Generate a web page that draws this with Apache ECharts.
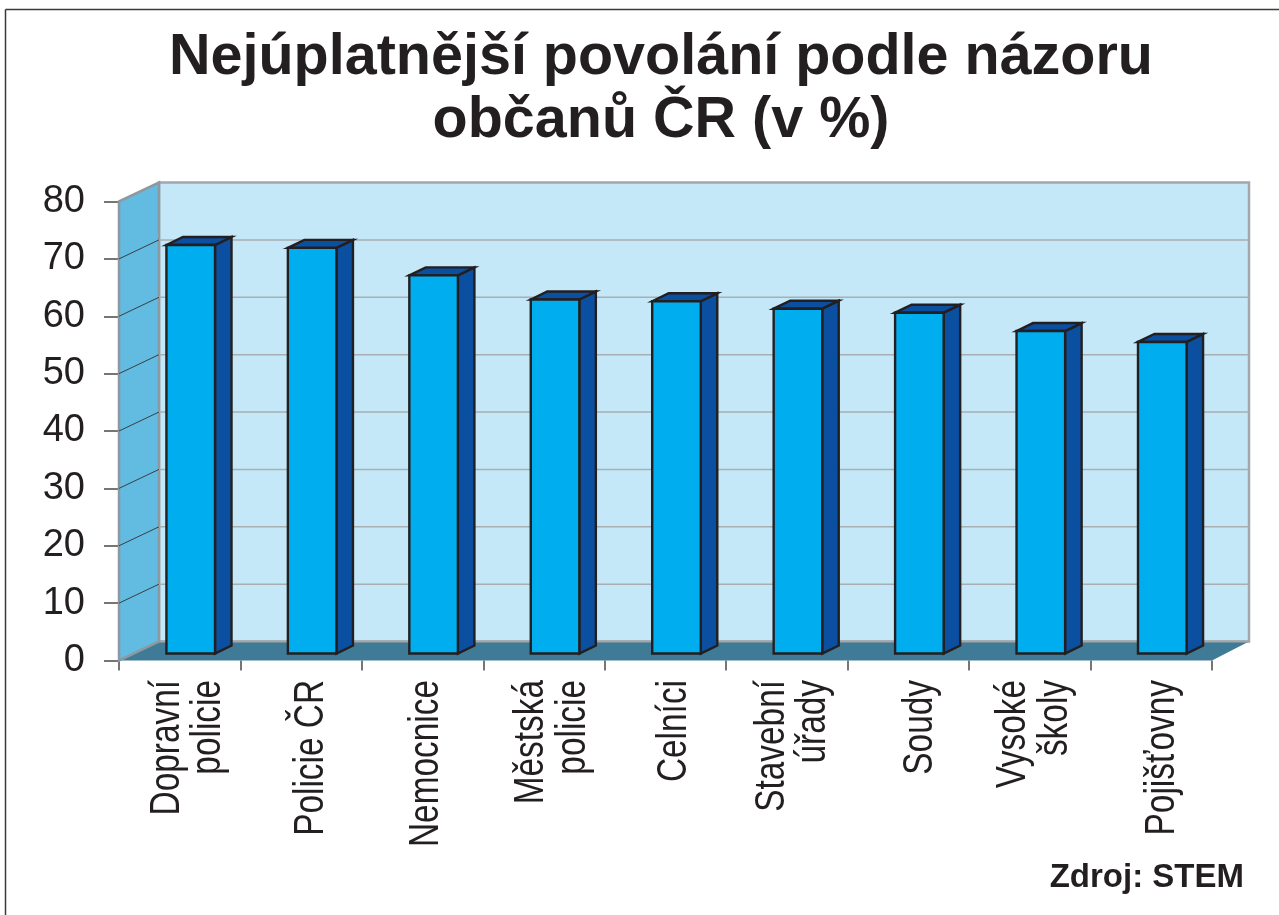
<!DOCTYPE html>
<html><head><meta charset="utf-8">
<style>html,body{margin:0;padding:0;background:#fff}#c{width:1279px;height:915px}</style>
<script src="https://cdn.jsdelivr.net/npm/echarts@6/dist/echarts.min.js"></script>
</head><body><div id="c"></div>
<script>
const categories = ['Dopravní\npolicie','Policie ČR','Nemocnice','Městská\npolicie','Celníci','Stavební\núřady','Soudy','Vysoké\nškoly','Pojišťovny'];
const values = [71.2, 70.7, 65.9, 61.7, 61.4, 60.1, 59.4, 56.2, 54.3];
const yTicks = [0,10,20,30,40,50,60,70,80];
const titleText = 'Nejúplatnější povolání podle názoru\nobčanů ČR (v %)';
const sourceText = 'Zdroj: STEM';

const labelNudge = [8,10,4,8.5,9,6,12,4.5,11];   // sideways offset of each category label (px)
const DX = 40, DY = -19;            // wall depth
const BX = 11, BY = -7;             // bar front-face offset from the axis plane
const SX = 16.5, SY = -8;           // bar depth
const INK = '#231f20';

const chart = echarts.init(document.getElementById('c'), null, {renderer:'canvas'});
const poly = (pts, fill, stroke, lw) => ({type:'polygon', shape:{points:pts}, style:{fill, stroke:stroke||null, lineWidth:lw||0, lineJoin:'miter'}});
const seg = (a,b,color,lw) => ({type:'line', shape:{x1:a[0],y1:a[1],x2:b[0],y2:b[1]}, style:{stroke:color, lineWidth:lw}});

function renderWalls(params, api){
  const g = params.coordSys;
  const l=g.x, r=g.x+g.width, t=g.y, b=g.y+g.height;
  return {type:'group', children:[
    poly([[l+DX,t+DY],[r+DX-3,t+DY],[r+DX-3,b+DY],[l+DX,b+DY]], '#c5e8f9', '#a3a7ab', 2.5),
    poly([[l,b],[l+DX,b+DY],[r+DX-3,b+DY],[r,b]], '#3f7b97'),
    seg([l+DX,b+DY],[r+DX-3,b+DY],'#a3a7ab',2),
    poly([[l,t],[l+DX,t+DY],[l+DX,b+DY],[l,b]], '#62bbe0', '#8d99a1', 2.5)
  ]};
}
function renderGrid(params, api){
  const v = api.value(1);
  const g = params.coordSys;
  const y = api.coord([0,v])[1];
  const l=g.x, r=g.x+g.width;
  if (v===0 || v===80) return {type:'group',children:[]};
  return {type:'group', children:[
    seg([l+DX,y+DY],[r+DX-3,y+DY],'#a8aeb2',1.5),
    seg([l,y],[l+DX,y+DY],'#3a3f42',1)
  ]};
}
function renderBar(params, api){
  const i = api.value(0), v = api.value(1);
  const top = api.coord([i,v]), base = api.coord([i,0]);
  const w = api.size([1,0])[0]*0.4;
  const x0 = top[0]-w/2+BX, x1 = x0+w, yt = top[1]+BY, yb = base[1]+BY;
  return {type:'group', children:[
    poly([[x1,yt],[x1+SX,yt+SY],[x1+SX,yb+SY],[x1,yb]], '#0b4fa0', INK, 2.4),
    poly([[x0,yt],[x0+SX,yt+SY],[x1+SX,yt+SY],[x1,yt]], '#0b4fa0', INK, 2.4),
    poly([[x0,yt],[x1,yt],[x1,yb],[x0,yb]], '#00aeef', INK, 2.4)
  ]};
}
function renderCatLabel(params, api){
  const i = api.value(0);
  const p = api.coord([i,0]);
  return {type:'text', x:p[0]+labelNudge[i], y:p[1]+19.5, rotation:Math.PI/2, scaleX:0.795, scaleY:1,
    style:{text:categories[i], font:'42px "Liberation Sans", Arial, sans-serif', fill:INK,
      align:'right', verticalAlign:'middle', lineHeight:41.5}};
}

chart.setOption({
  animation:false,
  backgroundColor:'#fff',
  title:[
    {text:titleText, left:656, top:22, textAlign:'center',
     textStyle:{fontFamily:'Liberation Sans', fontWeight:'bold', fontSize:57.5, lineHeight:63, color:INK}},
    {text:sourceText, right:30, top:856,
     textStyle:{fontFamily:'Liberation Sans', fontWeight:'bold', fontSize:33, color:INK}}
  ],
  graphic:[
    {type:'line', silent:true, shape:{x1:5.5,y1:9.5,x2:1279,y2:9.5}, style:{stroke:'#3a3a3a',lineWidth:1.5}},
    {type:'line', silent:true, shape:{x1:5.5,y1:9.5,x2:5.5,y2:915}, style:{stroke:'#3a3a3a',lineWidth:1.5}}
  ],
  grid:{left:119, right:67, top:201.5, bottom:254.5, containLabel:false},
  xAxis:{type:'category', data:categories, boundaryGap:true,
    axisLine:{show:false},
    axisTick:{show:true, alignWithLabel:false, length:10, lineStyle:{color:'#4a4a4a',width:1.5}},
    axisLabel:{show:false},
    splitLine:{show:false}},
  yAxis:{type:'value', min:0, max:80, interval:10,
    axisLine:{show:false},
    axisTick:{show:true, length:15, lineStyle:{color:'#4a4a4a',width:1.5}},
    axisLabel:{margin:34, fontFamily:'Liberation Sans', fontSize:38, color:INK},
    splitLine:{show:false}},
  series:[
    {type:'custom', name:'walls', silent:true, clip:false, z:1, renderItem:renderWalls, data:[[0,0]]},
    {type:'custom', name:'grid', silent:true, clip:false, z:2, renderItem:renderGrid, encode:{x:0,y:1}, data:yTicks.map(t=>[0,t])},
    {type:'custom', name:'Nejúplatnější povolání', silent:true, clip:false, z:3, renderItem:renderBar, encode:{x:0,y:1}, data:values.map((v,i)=>[i,v])},
    {type:'custom', name:'labels', silent:true, clip:false, z:4, renderItem:renderCatLabel, encode:{x:0,y:1}, data:categories.map((c,i)=>[i,0])}
  ]
});
</script></body></html>
